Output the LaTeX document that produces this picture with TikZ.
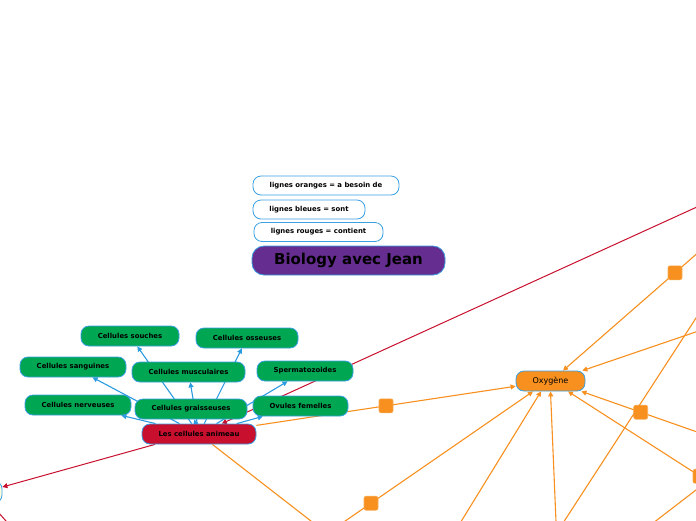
\documentclass[tikz,border=0pt]{standalone}
\usepackage{fontspec}
\setmainfont{DejaVu Sans}
\usepackage{tikz}
\usetikzlibrary{arrows.meta, backgrounds}
\definecolor{mapgreen}{RGB}{0,166,81}
\definecolor{mapred}{RGB}{200,16,46}
\definecolor{mappurple}{RGB}{102,45,145}
\definecolor{maporange}{RGB}{247,144,30}
\definecolor{mapblue}{RGB}{43,155,224}
\definecolor{mapborder}{RGB}{58,160,224}

\tikzset{
  topic/.style={rectangle, rounded corners=8pt, draw=mapborder, line width=0.8pt,
    minimum height=20pt, inner sep=0pt, text=black,
    font=\bfseries\fontsize{6.9}{8}\selectfont},
  cell/.style={topic, fill=mapgreen},
  legendbox/.style={topic, fill=white, minimum height=19pt},
  handle/.style={rectangle, rounded corners=2pt, fill=maporange, draw=maporange!75!white,
    line width=0.6pt, minimum size=14pt, inner sep=0pt},
  tip/.style={-{Triangle[length=5pt,width=5pt]}},
  blueline/.style={draw=mapblue, line width=1.1pt, tip},
  redline/.style={draw=mapred, line width=1pt},
  orangeline/.style={draw=maporange, line width=1.1pt},
}

\begin{document}
\begin{tikzpicture}[x=1pt, y=-1pt]
  \useasboundingbox (0,0) rectangle (696,520);
  % Legend and title
  \node[legendbox, minimum width=146pt] (lgorange) at (326,185.5) {lignes oranges = a besoin de};
  \node[legendbox, minimum width=112pt] (lgblue) at (309,209.5) {lignes bleues = sont};
  \node[legendbox, minimum width=129pt] (lgred) at (318.5,232) {lignes rouges = contient};
  \node[topic, fill=mappurple, minimum width=193pt, minimum height=29pt, rounded corners=12pt,
    font=\bfseries\fontsize{15}{18}\selectfont] (title) at (348.5,260.5) {Biology avec Jean};
  % Cell types
  \foreach \cname/\cx/\cy/\cw/\ctext in {
      souches/130/336/98/Cellules souches,
      osseuses/247/338/102/Cellules osseuses,
      sanguines/73/367/106/Cellules sanguines,
      musculaires/188.5/372/113/Cellules musculaires,
      spermato/305/371/96/Spermatozoides,
      nerveuses/78/405/106/Cellules nerveuses,
      graisseuses/191/409/112/Cellules graisseuses,
      ovules/300.5/406/95/Ovules femelles}
    \node[cell, minimum width=\cw pt] (\cname) at (\cx,\cy) {\ctext};
  \node[topic, fill=mapred, minimum width=114pt] (animal) at (199,434) {Les cellules animeau};
  \node[topic, fill=maporange, minimum width=69pt, font=\fontsize{8}{10}\selectfont] (oxy) at (550.5,381) {Oxygène};
  \node[topic, fill=yellow!12, minimum width=84pt, minimum height=22pt] (leftnode) at (-40,492) {};
  % Ends outside the page
  \coordinate (contenant) at (800,160);
  \coordinate (redlow) at (30,548);
  \coordinate (animaldown) at (392,584);
  \coordinate (besoinA) at (209,615);
  \coordinate (besoinB) at (400,621);
  \coordinate (besoinC) at (561,640);
  \coordinate (besoinD) at (832,561);
  \coordinate (besoinE) at (700,433);
  \coordinate (besoinF) at (787,175);
  \coordinate (besoinG) at (810,293);
  \coordinate (crossA) at (552,540);
  \coordinate (crossB) at (709,298);
  \coordinate (crossC) at (644,530);
  \coordinate (crossD) at (709,480);
  \begin{scope}[on background layer]
    % Blue: sont
    \foreach \cname in {souches, osseuses, sanguines, musculaires, spermato, nerveuses, graisseuses, ovules}
      \draw[blueline] (animal) -- (\cname);
    % Red: contient
    \draw[redline, tip] (contenant) -- (animal);
    \draw[redline, tip] ([xshift=-44pt]animal.south) -- ([yshift=5pt]leftnode.east);
    \draw[redline] ([xshift=-12pt]leftnode.south east) -- (redlow);
    % Orange: a besoin de
    \draw[orangeline, tip] (animal) -- node[handle]{} (oxy);
    \draw[orangeline] (animal) -- (animaldown);
    \draw[orangeline, tip] (besoinA) -- node[handle]{} ([xshift=-17.5pt]oxy.south);
    \draw[orangeline, tip] (besoinB) -- ([xshift=-9.5pt]oxy.south);
    \draw[orangeline, tip] (besoinC) -- (oxy.south);
    \draw[orangeline, tip] (besoinD) -- node[handle]{} ([xshift=17.5pt]oxy.south);
    \draw[orangeline, tip] (besoinE) -- node[handle]{} ([xshift=-4pt]oxy.south east);
    \draw[orangeline, tip] (besoinF) -- node[handle]{} ([xshift=12.5pt]oxy.north);
    \draw[orangeline, tip] (besoinG) -- ([xshift=-3pt]oxy.north east);
    \draw[orangeline] (crossA) -- (crossB);
    \draw[orangeline] (crossC) -- (crossD);
  \end{scope}
\end{tikzpicture}
\end{document}
